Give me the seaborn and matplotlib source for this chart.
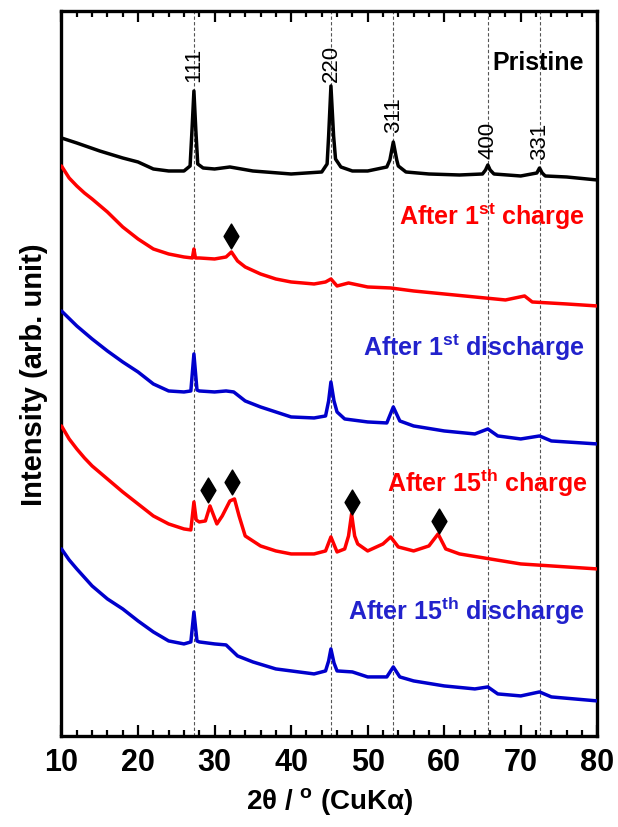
import matplotlib
matplotlib.use('Agg')
import matplotlib.pyplot as plt
import seaborn as sns
from matplotlib.ticker import MultipleLocator

sns.set_style('ticks')
plt.rcParams['font.family'] = ['Liberation Sans', 'DejaVu Sans']
plt.rcParams['mathtext.default'] = 'regular'
plt.rcParams['text.color'] = 'black'
plt.rcParams['axes.labelcolor'] = 'black'
plt.rcParams['xtick.color'] = 'black'

# XRD patterns (2theta in degrees, stacked intensity in arb. units)
pristine_x = [10, 12, 15, 18, 20, 22, 24, 26, 26.8, 27.05, 27.3, 27.55, 27.8, 28.5, 30, 32, 35, 40, 44, 44.7,
              44.9, 45.2, 45.55, 45.8, 46.5, 48, 50, 52.5, 52.9, 53.35, 53.8, 54, 55, 58, 62, 65, 65.4, 65.7,
              66.0, 66.5, 70, 72.1, 72.45, 72.8, 73.2, 76, 80]
pristine_y = [598, 593, 585, 578, 574, 567, 565, 565, 570, 606, 645, 606, 572, 568, 567, 569, 565, 562, 564,
              572, 600, 650, 600, 577, 569, 565, 565, 569, 576, 594, 576, 570, 564, 562, 561, 562, 566, 571,
              566, 562, 560, 563, 568, 563, 560, 559, 556]

charge1_x = [10, 11, 12, 13, 14, 16, 18, 20, 22, 24, 26, 27.1, 27.3, 27.5, 28, 30, 31.5, 32.2, 33, 34, 36,
             38, 40, 43, 44.5, 45.2, 46, 47.5, 50, 53, 56, 60, 64, 68, 70.5, 71.5, 76, 80]
charge1_y = [570, 558, 550, 543, 537, 524, 509, 497, 487, 482, 479, 478, 487, 478, 478, 477, 479, 484, 475,
             469, 462, 457, 454, 452, 454, 457, 450, 453, 449, 448, 445, 442, 439, 436, 440, 434, 432, 430]

discharge1_x = [10, 12, 14, 16, 18, 20, 22, 24, 26, 26.9, 27.3, 27.7, 28, 30, 31.5, 32.5, 34, 36, 38, 40,
                43, 44.5, 44.9, 45.2, 45.6, 46, 47, 50, 52.5, 53.35, 54.2, 56, 60, 64, 65.7, 67, 70,
                72.45, 74, 80]
discharge1_y = [425, 410, 397, 385, 374, 364, 352, 345, 344, 345, 382, 346, 345, 344, 345, 344, 335, 329,
                324, 319, 318, 320, 335, 354, 335, 324, 317, 314, 313, 329, 315, 310, 305, 302, 307, 300,
                297, 300, 295, 292]

charge15_x = [10, 11, 12, 13, 14, 16, 18, 20, 22, 24, 26, 26.9, 27.3, 27.6, 28, 28.8, 29.4, 30.3, 31, 32,
              32.6, 33.2, 34, 36, 38, 40, 43, 44.5, 45.2, 46, 47, 47.5, 47.9, 48.3, 48.7, 50, 52, 53, 54,
              56, 58, 59.2, 60.2, 62, 66, 70, 74, 80]
charge15_y = [310, 297, 287, 278, 270, 257, 244, 232, 220, 212, 207, 206, 234, 216, 214, 215, 230, 212, 220,
              235, 237, 220, 200, 190, 185, 182, 182, 185, 199, 184, 187, 200, 222, 200, 192, 185, 192, 199,
              189, 185, 190, 202, 187, 182, 177, 172, 170, 167]

discharge15_x = [10, 11, 12, 14, 16, 18, 20, 22, 24, 26, 26.9, 27.3, 27.7, 28, 30, 31.5, 33, 35, 38, 40,
                 43, 44.5, 44.9, 45.2, 45.6, 46, 48, 50, 52.5, 53.35, 54.2, 56, 60, 64, 65.7, 67, 70, 72.45,
                 74, 80]
discharge15_y = [187, 176, 167, 150, 137, 127, 115, 104, 95, 92, 94, 124, 95, 94, 92, 91, 80, 74, 67, 65,
                 62, 65, 75, 87, 73, 65, 64, 59, 59, 69, 59, 55, 50, 47, 49, 42, 40, 44, 39, 35]

# reflection positions and labels
hkl_pos = [27.3, 45.2, 53.35, 65.7, 72.45]
hkl_labels = ['111', '220', '311', '400', '331']
hkl_text_y = [655, 655, 604, 578, 577]

# new phase reflections (diamonds)
diamond_x = [32.1, 29.2, 32.3, 47.9, 59.3]
diamond_y = [500, 246, 254, 234, 215]

curves = [
    (pristine_x, pristine_y, 'black'),
    (charge1_x, charge1_y, '#ff0000'),
    (discharge1_x, discharge1_y, '#0000cc'),
    (charge15_x, charge15_y, '#ff0000'),
    (discharge15_x, discharge15_y, '#0000cc'),
]

names = ['Pristine', 'After 1$^{st}$ charge', 'After 1$^{st}$ discharge',
         'After 15$^{th}$ charge', 'After 15$^{th}$ discharge']
name_colors = ['black', '#ff0000', '#2222cc', '#ff0000', '#2222cc']
name_x = [78.2, 78.4, 78.4, 78.8, 78.4]
name_y = [674, 520, 389, 254, 126]

fig = plt.figure(figsize=(6.18, 8.28), dpi=100)
ax = fig.add_axes([0.0995, 0.11, 0.867, 0.8755])

for xx in hkl_pos:
    ax.axvline(xx, color='#555555', lw=0.8, ls=(0, (3, 2)), zorder=1)

for xs, ys, c in curves:
    sns.lineplot(x=xs, y=ys, color=c, lw=2.5, ax=ax, zorder=3)

sns.scatterplot(x=diamond_x, y=diamond_y, marker='d', s=160, color='black', edgecolor='black', ax=ax, zorder=4)

for xx, lab, yy in zip(hkl_pos, hkl_labels, hkl_text_y):
    ax.text(xx, yy, lab, rotation=90, ha='center', va='bottom', fontsize=16, color='black')

for nm, c, xx, yy in zip(names, name_colors, name_x, name_y):
    ax.text(xx, yy, nm, color=c, ha='right', va='center', fontsize=18, fontweight='bold')

ax.set_xlim(10, 80)
ax.set_ylim(0, 725)
ax.set_yticks([])
ax.xaxis.set_major_locator(MultipleLocator(10))
ax.xaxis.set_minor_locator(MultipleLocator(2))
ax.tick_params(axis='x', which='both', direction='in', top=True, bottom=True, width=1.6,
               color='black', labelcolor='black')
ax.tick_params(axis='x', which='major', length=8, labelsize=22, pad=8)
ax.tick_params(axis='x', which='minor', length=4)
for lab in ax.get_xticklabels():
    lab.set_fontweight('bold')
for sp in ax.spines.values():
    sp.set_linewidth(2.4)
    sp.set_color('black')

ax.set_xlabel('2θ / $^{o}$ (CuKα)', fontsize=20, fontweight='bold', labelpad=6, color='black')
ax.set_ylabel('Intensity (arb. unit)', fontsize=21, fontweight='bold', labelpad=10, color='black')

fig.savefig('out.png', dpi=100)
